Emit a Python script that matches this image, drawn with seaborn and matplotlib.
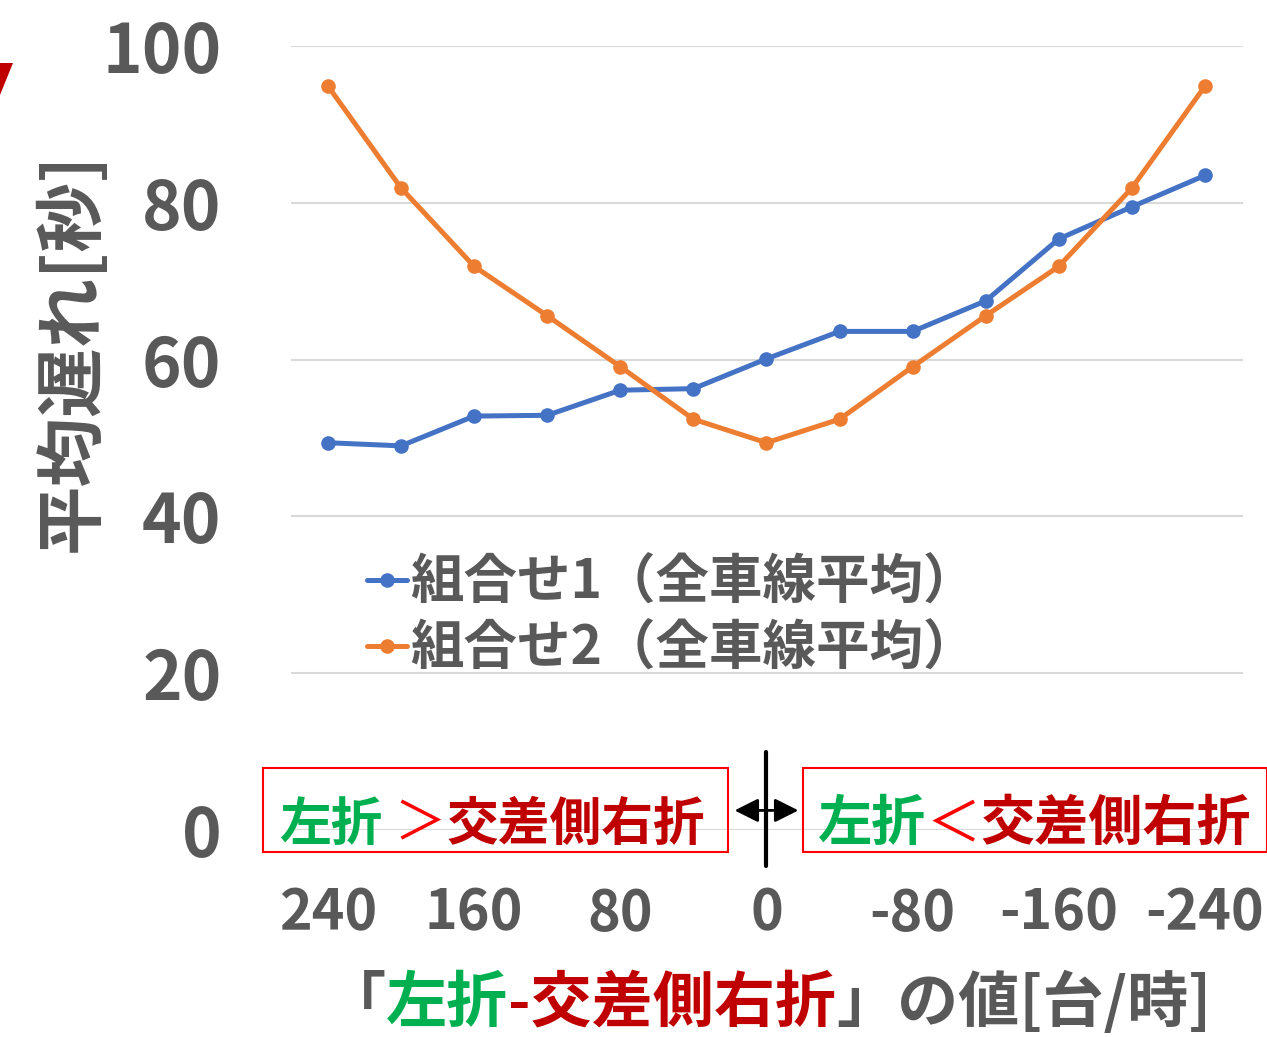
import matplotlib
matplotlib.use("Agg")
import matplotlib.pyplot as plt
from matplotlib.patches import Rectangle, Polygon
import seaborn as sns
import pandas as pd

# data
x_values = [240, 200, 160, 120, 80, 40, 0, -40, -80, -120, -160, -200, -240]
combo1 = [49.4, 49.0, 52.8, 52.9, 56.1, 56.3, 60.1, 63.6, 63.6, 67.5, 75.4, 79.5, 83.5]
combo2 = [94.9, 81.9, 71.9, 65.6, 59.1, 52.4, 49.4, 52.4, 59.1, 65.6, 71.9, 81.9, 94.9]
series_names = ["組合せ1（全車線平均）", "組合せ2（全車線平均）"]
x_ticks = [240, 160, 80, 0, -80, -160, -240]
y_ticks = [0, 20, 40, 60, 80, 100]

BLUE = "#4472C4"
ORANGE = "#ED7D31"
GREY = "#595959"
GREEN = "#00B050"
DRED = "#C00000"
RED = "#FF0000"

sns.set_theme(style="white")
plt.rcParams['font.family'] = ['Noto Sans CJK JP', 'DejaVu Sans']
plt.rcParams['axes.unicode_minus'] = False

df = pd.DataFrame({
    "x": x_values * 2,
    "delay": combo1 + combo2,
    "series": [series_names[0]] * len(x_values) + [series_names[1]] * len(x_values),
})

fig = plt.figure(figsize=(12.67, 10.37), dpi=100)
ax = fig.add_axes([0.2297, 0.1996, 0.7514, 0.756])

sns.lineplot(data=df, x="x", y="delay", hue="series", palette=[BLUE, ORANGE],
             marker="o", markersize=10.5, markeredgewidth=0, linewidth=3.6,
             sort=False, ax=ax)

ax.set_xlim(260.2, -260.8)
ax.set_ylim(0, 100)
ax.set_xticks(x_ticks)
ax.set_xticklabels([str(v) for v in x_ticks])
ax.set_yticks(y_ticks)
ax.set_yticklabels([str(v) for v in y_ticks])
ax.tick_params(axis='y', length=0, pad=50, labelsize=48.5, labelcolor=GREY)
ax.tick_params(axis='x', length=0, pad=40, labelsize=40, labelcolor=GREY)
for lab in ax.get_xticklabels() + ax.get_yticklabels():
    lab.set_fontweight('bold')
ax.grid(axis='y', color="#D9D9D9", linewidth=1.5)
ax.set_axisbelow(True)
for s in ax.spines.values():
    s.set_visible(False)

ax.set_xlabel("")
ax.set_ylabel("")
fig.text(72 / 1267, 1 - 352 / 1037, "平均遅れ[秒]", rotation=90, fontsize=50,
         color=GREY, fontweight='bold', ha='center', va='center')

# legend
handles, labels = ax.get_legend_handles_labels()
ax.legend(handles, labels, loc='upper left', bbox_to_anchor=(0.08, 0.35),
          frameon=False, handlelength=0.75, handletextpad=0.05, labelspacing=0.2,
          borderaxespad=0, borderpad=0,
          prop={'size': 38.5, 'weight': 'bold'}, labelcolor=GREY)

# boxes under the curve
tr = ax.transData
ax.add_patch(Rectangle((21.1, -2.8), 275.6 - 21.1, 10.7, transform=tr,
                       fill=False, edgecolor=RED, linewidth=1.5, clip_on=False))
ax.add_patch(Rectangle((-20.0, -2.8), -254, 10.7, transform=tr,
                       fill=False, edgecolor=RED, linewidth=1.5, clip_on=False))


def colored_text(pieces, x, y, size, coords):
    t = ax.annotate(pieces[0][0], xy=(x, y), xycoords=coords, color=pieces[0][1],
                    fontsize=size, fontweight=pieces[0][2], ha='left', va='center',
                    annotation_clip=False)
    for txt, col, wt in pieces[1:]:
        t = ax.annotate(txt, xy=(1, 0.5), xycoords=t, color=col, fontsize=size,
                        fontweight=wt, ha='left', va='center')
    return t


colored_text([("左折", GREEN, 'bold'), (" ＞", RED, 'normal'), ("交差側右折", DRED, 'bold')],
             266.5, 0.7, 37.3, 'data')
colored_text([("左折", GREEN, 'bold'), ("＜", RED, 'normal'), ("交差側右折", DRED, 'bold')],
             -28.0, 0.7, 39, 'data')

# double arrow at zero
ax.plot([0, 0], [-4.6, 9.9], color='black', linewidth=3, clip_on=False)
ax.annotate("", xy=(19, 2.5), xytext=(-19, 2.5), xycoords='data',
            arrowprops=dict(arrowstyle='<|-|>', color='black', lw=2,
                            mutation_scale=36), annotation_clip=False)

# multi-coloured x label
t = fig.text(325 / 1267, 0.032, "「", color=GREY, fontsize=44, fontweight='bold',
             ha='left', va='center')
for txt, col in [("左折", GREEN), ("-交差側右折", DRED), ("」の値[台/時]", GREY)]:
    t = ax.annotate(txt, xy=(1, 0.5), xycoords=t, color=col, fontsize=44,
                    fontweight='bold', ha='left', va='center')

# red mark at the left edge
fig.patches.append(Polygon([(0, 1 - 63 / 1037), (13 / 1267, 1 - 63 / 1037), (0, 1 - 95 / 1037)],
                           closed=True, transform=fig.transFigure, facecolor=DRED,
                           edgecolor='none'))

fig.savefig("out.png", dpi=100)
